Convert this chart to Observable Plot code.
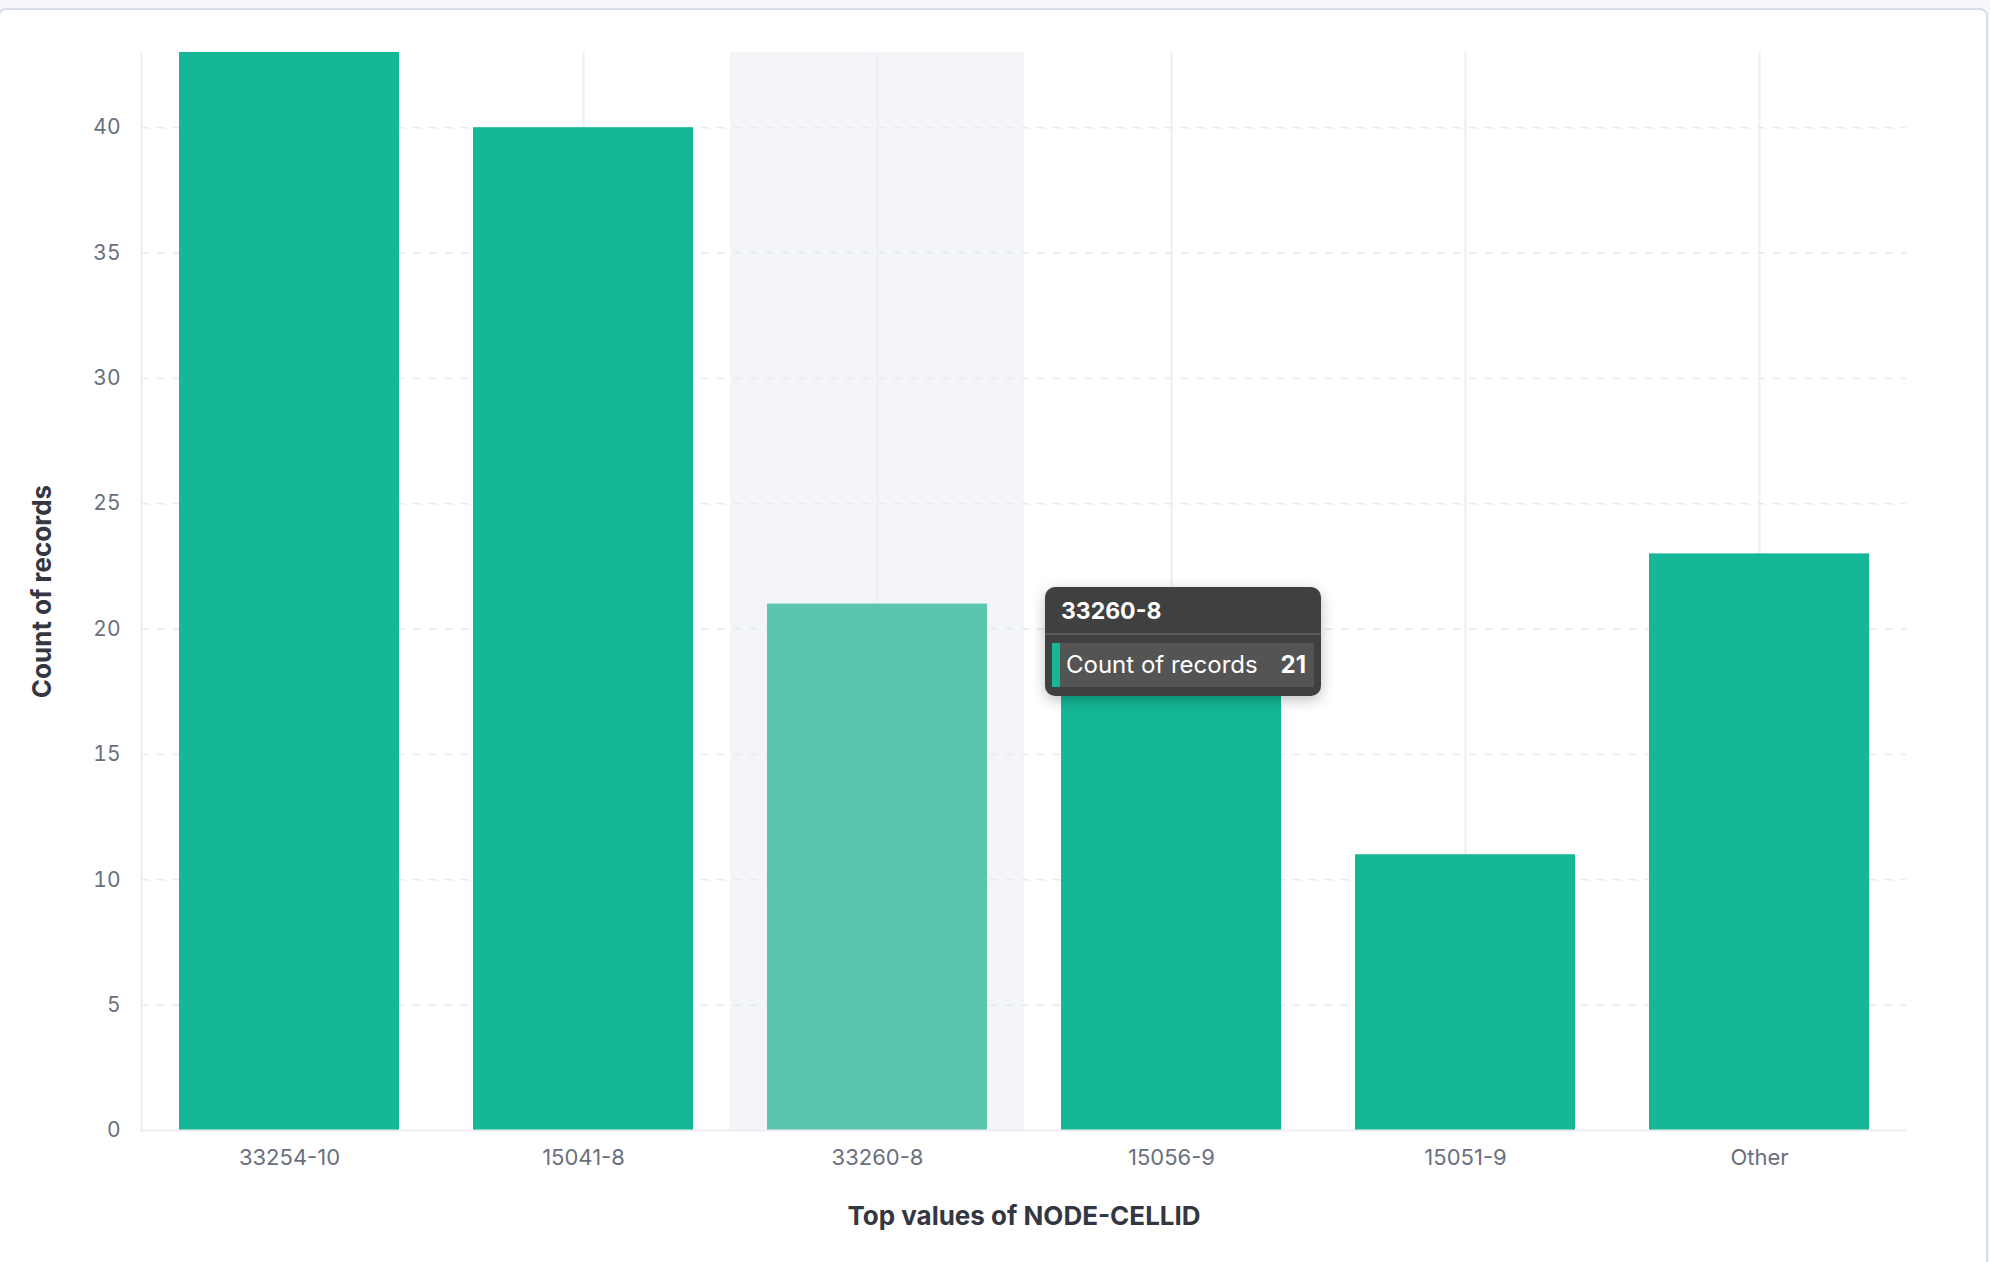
<!DOCTYPE html>
<html>
<head>
<meta charset="utf-8">
<script src="https://cdn.jsdelivr.net/npm/d3@7"></script>
<script src="https://cdn.jsdelivr.net/npm/@observablehq/plot@0.6"></script>
<style>
  html, body { margin: 0; padding: 0; background: #f7f8fb; width: 1990px; height: 1262px; overflow: hidden; font-family: Inter, "Noto Sans", sans-serif; }
  #card { position: absolute; left: -2px; top: 8px; width: 1990px; height: 1262px; background: #fff; border: 2px solid #d6dce8; border-radius: 8px; box-sizing: border-box; }
  #chart { position: absolute; left: 0; top: 0; }
  #tip { position: absolute; background: #404040; border-radius: 10px; box-shadow: 0 4px 14px rgba(0,0,0,0.25); color: #fff; font-family: Inter, sans-serif; box-sizing: border-box; }
  #tip .hd { font-weight: 700; font-size: 23px; padding: 5px 16px 0 16px; height: 48px; line-height: 38px; border-bottom: 2px solid #585858; box-sizing: border-box; }
  #tip .row { margin: 8px 7px 0 7px; background: #545454; height: 44px; display: flex; align-items: center; border-left: 8px solid #16b697; padding-left: 6px; font-size: 24px; }
  #tip .row .v { font-weight: 700; margin-left: auto; padding-right: 8px; }
</style>
</head>
<body>
<div id="card"></div>
<div id="chart"></div>
<div id="tip"></div>
<script>
const categories = ["33254-10", "15041-8", "33260-8", "15056-9", "15051-9", "Other"];
const counts = [43, 40, 21, 20, 11, 23];
const yTicks = [0, 5, 10, 15, 20, 25, 30, 35, 40];
const hovered = "33260-8";
const xTitle = "Top values of NODE-CELLID";
const yTitle = "Count of records";
const seriesName = "Count of records";

const data = categories.map((c, i) => ({cat: c, count: counts[i]}));
const yMax = d3.max(counts);

const barColor = "#15b796";
const hoverColor = "#5bc6ad";
const gridColor = "#eceef3";

const chart = Plot.plot({
  width: 1990,
  height: 1262,
  marginLeft: 141,
  marginRight: 84,
  marginTop: 52,
  marginBottom: 132,
  style: {fontFamily: "Inter, 'Noto Sans', sans-serif", fontSize: "22px", color: "#69707d", background: "transparent", overflow: "visible"},
  x: {domain: categories, padding: 0, label: null},
  y: {domain: [0, yMax], label: null},
  marks: [
    Plot.barY([hovered], {x: d => d, y1: 0, y2: yMax, fill: "#f3f5f9"}),
    Plot.ruleX(categories, {x: d => d, stroke: gridColor, strokeWidth: 2}),
    Plot.ruleY(yTicks.filter(t => t > 0), {stroke: "#e6e9ee", strokeWidth: 1.5, strokeDasharray: "8,8"}),
    Plot.frame({anchor: "left", stroke: gridColor, strokeWidth: 2}),
    Plot.barY(data, {x: "cat", y: "count", fill: d => d.cat === hovered ? hoverColor : barColor, insetLeft: 37, insetRight: 37}),
    Plot.ruleY([0], {stroke: gridColor, strokeWidth: 2}),
    Plot.axisX({tickSize: 0, tickPadding: 19, fontSize: 22, fill: "#69707d", label: null}),
    Plot.axisY({ticks: yTicks, tickSize: 0, tickPadding: 21, fontSize: 21, fill: "#69707d", label: null}),
    Plot.text([yTitle], {frameAnchor: "left", dx: -99, rotate: -90, textAnchor: "middle", fontWeight: 700, fontSize: 26, fill: "#343741"}),
    Plot.text([xTitle], {frameAnchor: "bottom", dy: 94, textAnchor: "middle", fontWeight: 700, fontSize: 26, fill: "#343741"})
  ]
});
document.getElementById("chart").appendChild(chart);

// tooltip anchored to the hovered bar via the chart's scales
const xs = chart.scale("x");
const ys = chart.scale("y");
const hv = data.find(d => d.cat === hovered);
const tip = document.getElementById("tip");
tip.innerHTML = `<div class="hd">${hv.cat}</div><div class="row"><span>${seriesName}</span><span class="v">${hv.count}</span></div>`;
tip.style.left = (xs.apply(hovered) + xs.bandwidth + 21) + "px";
tip.style.top = (ys.apply(hv.count) - 17) + "px";
tip.style.width = "276px";
tip.style.height = "109px";
</script>
</body>
</html>
